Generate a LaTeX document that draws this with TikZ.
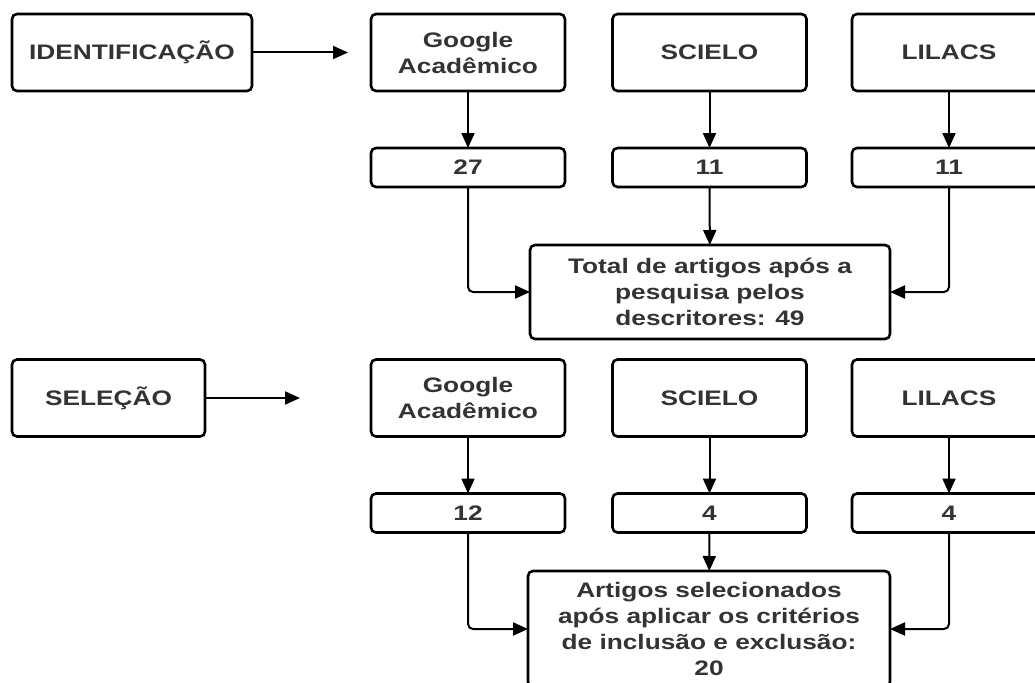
\documentclass[tikz,border=0pt]{standalone}
\usepackage{fontspec}
\usepackage{xcolor}
\newfontfamily\flowfont{Liberation Sans}[FakeStretch=1.25]
\usetikzlibrary{arrows.meta,positioning}
\definecolor{txtgray}{HTML}{333333}
\tikzset{
  stage/.style={ % phase label on the left
    draw, rectangle, rounded corners=5pt, line width=2.6pt,
    minimum height=77pt, inner sep=0pt, outer sep=0pt,
    text=txtgray, align=center,
    font=\flowfont\bfseries\fontsize{21}{26}\selectfont
  },
  base/.style={ % database box
    stage, minimum width=194pt
  },
  count/.style={ % number of articles found
    stage, minimum width=194pt, minimum height=39pt
  },
  total/.style={ % summing box
    stage, minimum width=360pt
  },
  flow/.style={
    line width=2pt, rounded corners=5pt,
    -{Triangle[length=15pt,width=13pt]}
  }
}
\begin{document}
\begin{tikzpicture}[x=1pt, y=-1pt]
  \useasboundingbox (0,0) rectangle (1035,682);
  \clip (0,0) rectangle (1035,682);

  % identificacao
  \node[stage, minimum width=240pt] (ident) at (132,52.5) {IDENTIFICAÇÃO};
  \coordinate (identend) at (348,52.5);
  \node[base] (gaA) at (468,52.5) {Google\\Acadêmico};
  \node[base] (scA) at (709.5,52.5) {SCIELO};
  \node[base] (liA) at (949,52.5) {LILACS};
  \node[count] (nGaA) at (468,167.5) {27};
  \node[count] (nScA) at (709.5,167.5) {11};
  \node[count] (nLiA) at (949,167.5) {11};
  \node[total, minimum height=94pt] (totA) at (710,292)
    {Total de artigos após a\\pesquisa pelos\\descritores: 49};

  \draw[flow] (ident) -- (identend);
  \draw[flow] (gaA) -- (nGaA);
  \draw[flow] (scA) -- (nScA);
  \draw[flow] (liA) -- (nLiA);
  \draw[flow] (nGaA) |- (totA);
  \draw[flow] (nScA) -- (totA);
  \draw[flow] (nLiA) |- (totA);

  % selecao
  \node[stage, minimum width=193pt] (selec) at (108.5,398) {SELEÇÃO};
  \coordinate (selecend) at (300,398);
  \node[base] (gaB) at (468,398) {Google\\Acadêmico};
  \node[base] (scB) at (709.5,398) {SCIELO};
  \node[base] (liB) at (949,398) {LILACS};
  \node[count] (nGaB) at (468,513) {12};
  \node[count] (nScB) at (709.5,513) {4};
  \node[count] (nLiB) at (949,513) {4};
  \node[total, minimum width=362pt, minimum height=116pt] (totB) at (709,629)
    {Artigos selecionados\\após aplicar os critérios\\de inclusão e exclusão:\\20};

  \draw[flow] (selec) -- (selecend);
  \draw[flow] (gaB) -- (nGaB);
  \draw[flow] (scB) -- (nScB);
  \draw[flow] (liB) -- (nLiB);
  \draw[flow] (nGaB) |- (totB);
  \draw[flow] (nScB) -- (totB);
  \draw[flow] (nLiB) |- (totB);
\end{tikzpicture}
\end{document}
